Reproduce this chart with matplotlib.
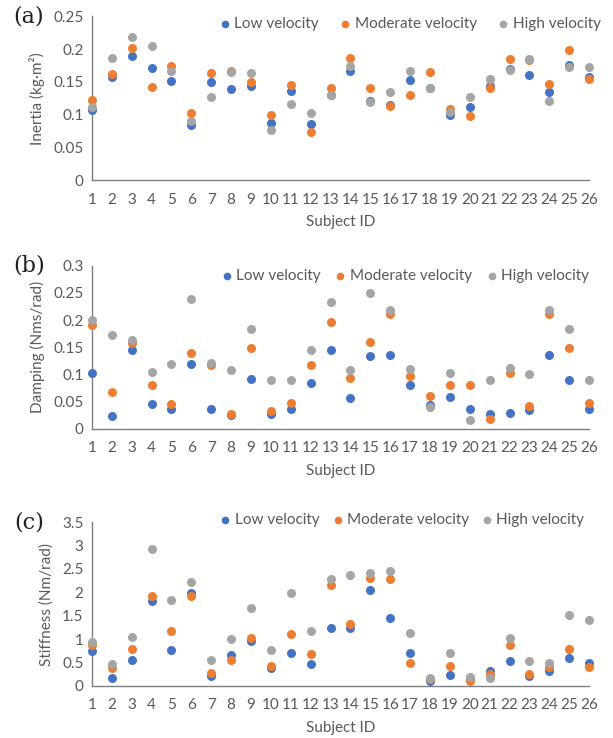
import matplotlib
matplotlib.use("Agg")
import matplotlib.pyplot as plt
import numpy as np

subjects = list(range(1, 27))

# (a) inertia [kg·m²]
inertia_low = [0.107, 0.158, 0.190, 0.171, 0.151, 0.084, 0.150, 0.139, 0.144, 0.087, 0.136, 0.085, 0.130,
               0.166, 0.121, 0.114, 0.152, 0.140, 0.099, 0.112, 0.143, 0.170, 0.160, 0.135, 0.175, 0.158]
inertia_mod = [0.122, 0.162, 0.201, 0.142, 0.174, 0.102, 0.164, 0.167, 0.150, 0.099, 0.145, 0.074, 0.140,
               0.186, 0.140, 0.113, 0.130, 0.165, 0.108, 0.098, 0.140, 0.184, 0.183, 0.146, 0.199, 0.154]
inertia_high = [0.112, 0.186, 0.218, 0.204, 0.167, 0.090, 0.126, 0.165, 0.164, 0.076, 0.116, 0.102, 0.130,
                0.174, 0.119, 0.134, 0.166, 0.140, 0.104, 0.126, 0.154, 0.168, 0.185, 0.121, 0.173, 0.173]

# (b) damping [Nms/rad]
damping_low = [0.102, 0.024, 0.144, 0.045, 0.036, 0.119, 0.036, 0.025, 0.091, 0.027, 0.036, 0.084, 0.144,
               0.056, 0.133, 0.135, 0.081, 0.044, 0.058, 0.036, 0.028, 0.029, 0.034, 0.135, 0.090, 0.036]
damping_mod = [0.190, 0.067, 0.157, 0.081, 0.045, 0.140, 0.118, 0.028, 0.149, 0.033, 0.048, 0.118, 0.197,
               0.094, 0.159, 0.212, 0.097, 0.061, 0.080, 0.081, 0.018, 0.103, 0.042, 0.212, 0.149, 0.048]
damping_high = [0.200, 0.172, 0.163, 0.105, 0.119, 0.239, 0.121, 0.108, 0.184, 0.089, 0.089, 0.145, 0.233,
                0.108, 0.249, 0.219, 0.110, 0.040, 0.102, 0.016, 0.089, 0.111, 0.100, 0.219, 0.184, 0.089]

# (c) stiffness [Nm/rad]
stiff_low = [0.75, 0.18, 0.55, 1.81, 0.77, 1.98, 0.21, 0.67, 0.96, 0.38, 0.70, 0.46, 1.24,
             1.24, 2.04, 1.45, 0.70, 0.11, 0.23, 0.16, 0.31, 0.53, 0.21, 0.31, 0.60, 0.50]
stiff_mod = [0.88, 0.38, 0.80, 1.93, 1.18, 1.92, 0.27, 0.55, 1.03, 0.43, 1.11, 0.68, 2.15,
             1.33, 2.31, 2.29, 0.50, 0.14, 0.43, 0.11, 0.26, 0.88, 0.26, 0.40, 0.80, 0.40]
stiff_high = [0.93, 0.48, 1.04, 2.93, 1.83, 2.23, 0.56, 1.01, 1.67, 0.76, 1.99, 1.17, 2.28,
              2.36, 2.41, 2.46, 1.13, 0.18, 0.70, 0.20, 0.17, 1.03, 0.53, 0.50, 1.51, 1.41]

series_names = ["Low velocity", "Moderate velocity", "High velocity"]
colors = ["#4472C4", "#ED7D31", "#A5A5A5"]

# tag, y label, series, y ticks, tick labels, axes rect, legend centre, legend column gap
panels = [
    ("(a)", "Inertia (kg·m²)", [inertia_low, inertia_mod, inertia_high],
     [0, 0.05, 0.1, 0.15, 0.2, 0.25], ["0", "0.05", "0.1", "0.15", "0.2", "0.25"],
     [0.150, 0.756, 0.811, 0.222], (0.640, 0.950), 1.4),
    ("(b)", "Damping (Nms/rad)", [damping_low, damping_mod, damping_high],
     [0, 0.05, 0.1, 0.15, 0.2, 0.25, 0.3], ["0", "0.05", "0.1", "0.15", "0.2", "0.25", "0.3"],
     [0.150, 0.419, 0.811, 0.221], (0.630, 0.939), 0.95),
    ("(c)", "Stiffness (Nm/rad)", [stiff_low, stiff_mod, stiff_high],
     [0, 0.5, 1, 1.5, 2, 2.5, 3, 3.5], ["0", "0.5", "1", "1.5", "2", "2.5", "3", "3.5"],
     [0.150, 0.0705, 0.811, 0.222], (0.624, 1.012), 0.85),
]

plt.rcParams["font.family"] = ["Lato", "DejaVu Sans"]
text_grey = "#595959"

fig = plt.figure(figsize=(6.13, 7.38), dpi=100)

for tag, ylabel, data, yticks, yticklabels, rect, leg_xy, col_gap in panels:
    ax = fig.add_axes(rect)
    for vals, name, c in zip(data, series_names, colors):
        ax.scatter(subjects, vals, s=42, color=c, label=name, zorder=3,
                   linewidths=0, clip_on=False)
    ax.set_xlim(1, 26)
    ax.set_ylim(yticks[0], yticks[-1])
    ax.set_xticks(subjects)
    ax.set_yticks(yticks)
    ax.set_yticklabels(yticklabels)
    ax.tick_params(length=0, labelsize=11, colors=text_grey)
    ax.tick_params(axis="x", pad=9)
    ax.tick_params(axis="y", pad=6)
    for side in ("top", "right"):
        ax.spines[side].set_visible(False)
    for side in ("left", "bottom"):
        ax.spines[side].set_color("#7f7f7f")
        ax.spines[side].set_linewidth(1.0)
    ax.set_ylabel(ylabel, fontsize=11, color=text_grey, labelpad=6)
    ax.set_xlabel("Subject ID", fontsize=11, color=text_grey, labelpad=6)
    leg = ax.legend(loc="center", bbox_to_anchor=leg_xy, ncol=3, frameon=False,
                    fontsize=11, handlelength=0.7, handletextpad=0.25,
                    columnspacing=col_gap, markerscale=0.85, borderaxespad=0,
                    borderpad=0)
    for t in leg.get_texts():
        t.set_color(text_grey)
    fig.text(0.047, rect[1] + rect[3], tag, fontsize=16, family="DejaVu Serif",
             ha="center", va="center", color="#202020")

fig.savefig("out.png", dpi=100)
